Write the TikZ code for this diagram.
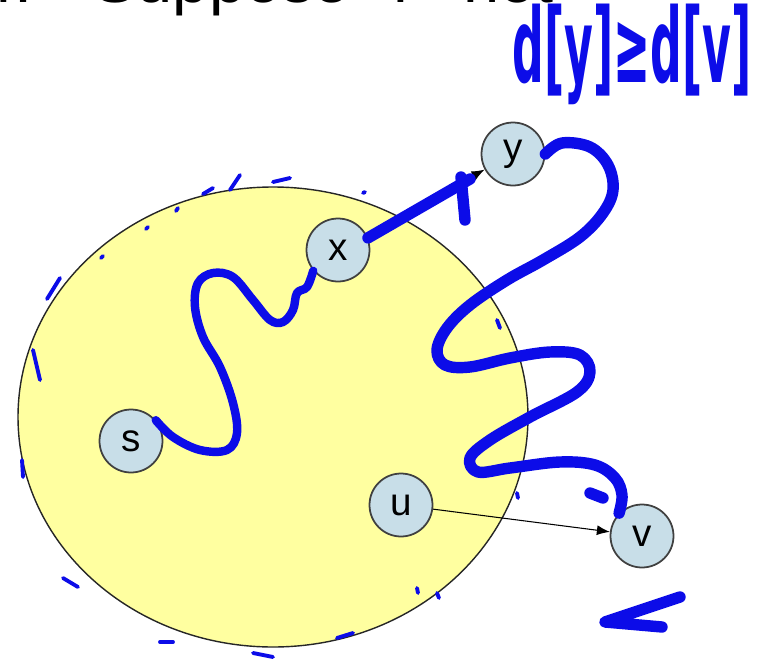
\documentclass[tikz,border=0pt]{standalone}
\usepackage{fontspec}
\setmainfont{Liberation Sans}
\newfontfamily\handfont{DejaVu Sans}
\usepackage{graphicx}
\usepackage{tikz}
\usetikzlibrary{arrows.meta}
\definecolor{setyellow}{RGB}{255,255,160}
\definecolor{vtxfill}{RGB}{200,222,232}
\definecolor{inkblue}{RGB}{12,12,232}

\begin{document}
\begin{tikzpicture}[x=0.02cm, y=-0.02cm,
    vtx/.style={circle, draw=black!75, line width=1pt, fill=vtxfill, minimum size=1.26cm, inner sep=0pt, font=\fontsize{22}{24}\selectfont},
    ink/.style={draw=inkblue, line width=4.8pt, line cap=round, line join=round},
    thickink/.style={ink, line width=6.5pt},
    speck/.style={ink, line width=2.2pt},
    edge/.style={-{Latex[length=2.6mm, width=2mm]}, line width=0.6pt}]
    \useasboundingbox (0,0) rectangle (758,660);

    % heading, cut off by the top edge
    \node[anchor=base west, inner sep=0pt, font=\fontsize{37}{40}\selectfont] (head) at (-4,2) {r.\hspace{1.22cm}Suppose\hspace{0.86cm}r\hspace{0.98cm}not};

    % the set S
    \draw[draw=black!85, line width=0.8pt, fill=setyellow] (273,417) ellipse [x radius=255, y radius=230];

    \node[vtx] (s) at (131,441) {s};
    \node[vtx] (x) at (338,250) {x};
    \node[vtx] (y) at (513,154) {y};
    \node[vtx] (u) at (401,505) {u};
    \node[vtx] (v) at (642,536) {v};

    \draw[edge] (u) -- (v);
    \draw[edge] (x) -- (y);

    % ink on top
    \draw[ink] plot[smooth, tension=0.6] coordinates {(s.40) (173,437) (200,450) (227,450) (237,433) (233,403) (220,367) (203,337) (195,307) (198,283) (213,273) (233,277) (253,300) (270,320) (283,322) (293,310) (297,293) (307,287) (x.220)};
    \coordinate (xyend) at (470,179);
    \draw[thickink] (x.22) -- (xyend);
    \draw[thickink] (461,177) -- (465,220);
    \draw[thickink] plot[smooth, tension=0.6] coordinates {(y.east) (562,143) (590,147) (608,165) (613,190) (603,213) (580,237) (543,260) (507,280) (470,305) (447,328) (437,350) (445,365) (470,367) (510,358) (550,352) (580,355) (590,372) (577,392) (530,417) (490,440) (470,458) (478,472) (510,468) (560,462) (595,465) (615,478) (622,495) (v.135)};
    \draw[thickink] (590,493) -- (603,498);
    \draw[thickink] (680,597) -- (605,622) -- (662,627);

    \foreach \xa/\ya/\xb/\yb in {230/190/240/175, 203/194/213/188, 176/211/178/208, 146/229/148/227, 101/258/103/256,
        47/299/60/278, 33/350/40/380, 273/182/290/178, 363/193/365/192, 22/460/23/477, 63/578/78/587,
        160/642/173/642, 253/653/273/657, 337/638/353/633, 417/588/418/593, 517/493/518/498,
        497/320/500/328, 437/593/439/598}
        \draw[speck] (\xa,\ya) -- (\xb,\yb);

    \node[text=inkblue, inner sep=0pt, font=\handfont\bfseries\fontsize{42}{44}\selectfont] (dist) at (632,54) {\scalebox{0.6}[1.4]{d[y]≥d[v]}};
\end{tikzpicture}
\end{document}
